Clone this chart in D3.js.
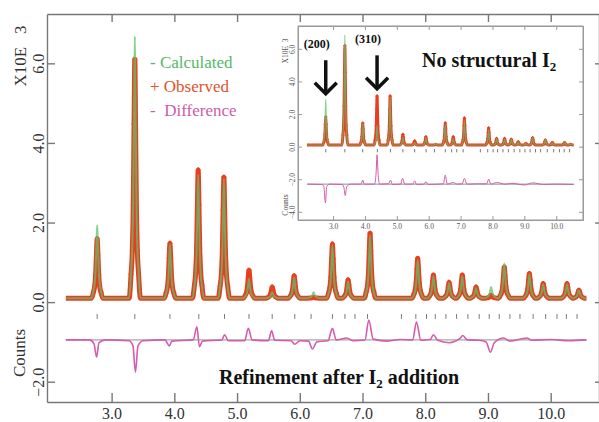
<!DOCTYPE html>
<html>
<head>
<meta charset="utf-8">
<script src="https://cdn.jsdelivr.net/npm/d3@7"></script>
<style>
  html, body { margin: 0; padding: 0; background: #fff; }
  svg { display: block; }
</style>
</head>
<body>
<svg id="chart"></svg>
<script>
// Peak positions, shared by the main refinement and the inset
const peakPos = [2.77, 3.37, 3.93, 4.38, 4.79, 5.19, 5.56, 5.91, 6.22, 6.52, 6.77, 7.12, 7.88, 8.13, 8.38, 8.59, 8.81, 9.05, 9.26, 9.66, 9.88, 10.26, 10.45];

// Main plot: refinement after I2 addition (counts x 10^3)
const calcMain = [1.93, 6.68, 1.45, 3.2, 3.1, 0.58, 0.25, 0.62, 0.25, 1.42, 0.52, 1.68, 1.05, 0.65, 0.48, 0.65, 0.35, 0.38, 0.97, 0.7, 0.45, 0.45, 0.3];
const obsMain  = [1.6, 6.1, 1.48, 3.32, 3.14, 0.8, 0.38, 0.66, 0.12, 1.46, 0.56, 1.73, 1.1, 0.68, 0.5, 0.68, 0.38, 0.18, 0.88, 0.72, 0.47, 0.47, 0.3];
const baseMain = 0.1;
const spanMain = [2.27, 10.57];
const diffMain = [
  [2.27, -0.95], [2.65, -0.95], [2.72, -1.05], [2.76, -1.38], [2.8, -1.02], [2.9, -0.95],
  [3.28, -0.97], [3.34, -1.1], [3.38, -1.76], [3.42, -1.1], [3.5, -0.97],
  [3.85, -0.95], [3.92, -1.1], [3.96, -0.98],
  [4.3, -0.95], [4.36, -0.62], [4.4, -1.12], [4.45, -0.98],
  [4.76, -0.95], [4.8, -0.82], [4.86, -0.97],
  [5.12, -0.97], [5.18, -0.66], [5.24, -0.95],
  [5.5, -0.97], [5.55, -0.72], [5.6, -0.96],
  [5.86, -0.97], [5.92, -1.06], [6.0, -0.97],
  [6.14, -0.98], [6.2, -1.18], [6.27, -1.0],
  [6.45, -0.97], [6.52, -0.66], [6.58, -0.95],
  [6.75, -0.9], [6.85, -0.97],
  [7.04, -0.95], [7.1, -0.45], [7.17, -0.93],
  [7.4, -0.98], [7.6, -0.94],
  [7.8, -0.95], [7.86, -0.5], [7.93, -0.96],
  [8.08, -0.94], [8.13, -0.82], [8.2, -0.96], [8.38, -1.02], [8.55, -0.92], [8.6, -0.84], [8.67, -0.95],
  [8.85, -0.96], [8.97, -1.0], [9.04, -1.26], [9.1, -1.02],
  [9.25, -0.9], [9.35, -0.98], [9.62, -0.9], [9.7, -0.96], [10.0, -0.94], [10.3, -0.97], [10.57, -0.95]
];
const diffZeroMain = -0.95;

// Inset: no structural I2
const calcInset = [2.9, 6.84, 1.4, 1.3, 3.05, 0.55, 0.25, 0.55, 0.2, 1.35, 0.5, 1.6, 1.05, 0.5, 0.45, 0.45, 0.3, 0.2, 0.55, 0.45, 0.25, 0.3, 0.15];
const obsInset  = [1.83, 6.2, 1.44, 3.1, 3.1, 0.75, 0.35, 0.6, 0.15, 1.45, 0.6, 1.75, 1.15, 0.5, 0.5, 0.45, 0.3, 0.2, 0.55, 0.4, 0.25, 0.25, 0.15];
const baseInset = 0.1;
const spanInset = [2.18, 10.55];
const diffInset = [
  [2.2, -2.3], [2.65, -2.32], [2.71, -2.45], [2.76, -3.45], [2.8, -2.45], [2.9, -2.3],
  [3.28, -2.32], [3.34, -2.5], [3.38, -3.0], [3.43, -2.45], [3.55, -2.3],
  [3.88, -2.3], [3.93, -2.05], [3.98, -2.3],
  [4.3, -2.3], [4.35, -1.6], [4.38, -0.5], [4.41, -1.6], [4.46, -2.3],
  [4.74, -2.28], [4.8, -2.05], [4.86, -2.32],
  [5.12, -2.3], [5.18, -1.95], [5.25, -2.3],
  [5.5, -2.3], [5.56, -2.1], [5.62, -2.32],
  [5.85, -2.3], [5.91, -2.15], [5.98, -2.32],
  [6.3, -2.3], [6.46, -2.28], [6.52, -1.75], [6.58, -2.3],
  [6.77, -2.2], [6.9, -2.3], [7.05, -2.28], [7.12, -1.95], [7.2, -2.3],
  [7.5, -2.28], [7.82, -2.28], [7.88, -2.0], [7.95, -2.3],
  [8.13, -2.2], [8.4, -2.3], [8.6, -2.25], [9.0, -2.35], [9.26, -2.22], [9.6, -2.32], [10.0, -2.3], [10.55, -2.32]
];

// Reflection markers
const reflections = [2.77, 3.37, 3.93, 4.39, 4.8, 5.19, 5.56, 5.92, 6.18, 6.52, 6.72, 6.88, 7.08, 7.62, 7.85, 8.02, 8.16, 8.33, 8.5, 8.68, 8.86, 9.02, 9.18, 9.35, 9.51, 9.72, 9.92, 10.1, 10.25, 10.42];

// Axes
const xTicks = [3, 4, 5, 6, 7, 8, 9, 10];
const yTicks = [-2, 0, 2, 4, 6];
const yTicksInset = [-4, -2, 0, 2, 4, 6];

// Legend and annotations
const legendItems = [
  {label: '- Calculated', color: '#55b86a'},
  {label: '+ Observed', color: '#e2522c'},
  {label: '-  Difference', color: '#cf5ca8'}
];
const arrows = [
  {label: '(200)', pos: 2.77, from: 5.3, to: 3.25},
  {label: '(310)', pos: 4.38, from: 5.6, to: 3.55}
];

const serif = '"Liberation Serif", "Times New Roman", serif';

// a peak drawn as a spike glyph (narrow top, wide foot) on a flat background
const glyphDx = [-0.09, -0.06, -0.04, -0.025, -0.012, 0, 0.012, 0.025, 0.04, 0.06, 0.09];
const glyphF  = [0, 0.1, 0.2, 0.39, 0.73, 1, 0.73, 0.39, 0.2, 0.1, 0];
function profile(heights, base, span) {
    const pts = [[span[0], base]];
    peakPos.forEach((p, i) => {
        glyphDx.forEach((dx, k) => pts.push([p + dx, base + glyphF[k] * (heights[i] - base)]));
    });
    pts.push([span[1], base]);
    return pts;
}

function lineOf(sx, sy) {
    return d3.line().x(d => sx(d[0])).y(d => sy(d[1])).curve(d3.curveMonotoneX);
}

function drawCurves(g, sx, sy, o) {
    const obs = profile(o.obs, o.base, o.span);
    const calc = profile(o.calc, o.base, o.span);
    // observed: red band with "+" marks
    g.append('path').datum(obs)
        .attr('d', lineOf(sx, sy))
        .attr('fill', 'none')
        .attr('stroke', '#ec3b1f')
        .attr('stroke-width', o.band)
        .attr('stroke-linejoin', 'round');
    g.selectAll('path.obs-mark')
        .data(obs.filter(d => d[1] > o.base + 0.08))
        .join('path')
        .attr('class', 'obs-mark')
        .attr('transform', d => `translate(${sx(d[0])},${sy(d[1])})`)
        .attr('d', d3.symbol(d3.symbolCross, o.mark))
        .attr('fill', '#e8401f');
    // calculated
    g.append('path').datum(calc)
        .attr('d', lineOf(sx, sy))
        .attr('fill', 'none')
        .attr('stroke', '#5cc46a')
        .attr('stroke-opacity', 0.75)
        .attr('stroke-width', o.lw);
    // reflection markers
    g.selectAll('line.refl')
        .data(reflections)
        .join('line')
        .attr('class', 'refl')
        .attr('x1', d => sx(d)).attr('x2', d => sx(d))
        .attr('y1', sy(o.refl[0])).attr('y2', sy(o.refl[1]))
        .attr('stroke', '#777')
        .attr('stroke-width', 1);
    // difference
    g.append('path').datum(o.span.map(v => [v, o.diffZero]))
        .attr('d', lineOf(sx, sy))
        .attr('stroke', '#444')
        .attr('stroke-opacity', 0.6)
        .attr('stroke-width', 1);
    g.append('path').datum(o.diff)
        .attr('d', lineOf(sx, sy))
        .attr('fill', 'none')
        .attr('stroke', '#d45cae')
        .attr('stroke-width', o.diffW);
}

function styleAxis(g, color, w) {
    g.select('.domain').attr('stroke', color).attr('stroke-width', w);
    g.selectAll('.tick line').attr('stroke', color).attr('stroke-width', w);
    g.attr('font-family', serif);
}

const svg = d3.select('#chart').attr('width', 599).attr('height', 422);

// ---------- main plot ----------
const x = d3.scaleLinear().domain([1.97, 10.77]).range([47, 599]);
const y = d3.scaleLinear().domain([-2.51, 7.24]).range([402, 14]);
const fmt = d3.format('.1f');

const gMain = svg.append('g').attr('class', 'main');

gMain.append('g').attr('transform', 'translate(0,402)')
    .call(d3.axisBottom(x).tickValues(xTicks).tickSize(-9).tickSizeOuter(0).tickPadding(6).tickFormat(fmt))
    .call(g => styleAxis(g, '#777', 1.4))
    .call(g => g.selectAll('text').attr('font-size', 16).attr('fill', '#333'));
gMain.append('g').attr('transform', 'translate(0,14)')
    .call(d3.axisTop(x).tickValues(xTicks).tickSize(-8).tickSizeOuter(0).tickFormat(''))
    .call(g => styleAxis(g, '#777', 1.4));
gMain.append('g').attr('transform', 'translate(47,0)')
    .call(d3.axisLeft(y).tickValues(yTicks).tickSize(-8).tickSizeOuter(0).tickFormat(fmt))
    .call(g => styleAxis(g, '#777', 1.4))
    .call(g => g.selectAll('text')
        .attr('font-size', 16).attr('fill', '#333')
        .attr('transform', 'rotate(-90)')
        .attr('x', 0).attr('y', -3).attr('dy', 0)
        .attr('text-anchor', 'middle'));
gMain.append('g').attr('transform', 'translate(599,0)')
    .call(d3.axisRight(y).tickValues(yTicks).tickSize(-4).tickSizeOuter(0).tickFormat(''))
    .call(g => styleAxis(g, '#777', 1.4));

gMain.append('text')
    .attr('transform', 'translate(26,56) rotate(-90)')
    .attr('text-anchor', 'middle')
    .attr('font-family', serif).attr('font-size', 17).attr('fill', '#333')
    .attr('xml:space', 'preserve')
    .text('X10E   3');
gMain.append('text')
    .attr('transform', 'translate(25,353) rotate(-90)')
    .attr('text-anchor', 'middle')
    .attr('font-family', serif).attr('font-size', 17).attr('fill', '#333')
    .text('Counts');

drawCurves(gMain, x, y, {
    obs: obsMain, calc: calcMain, base: baseMain, span: spanMain,
    diff: diffMain, diffZero: diffZeroMain,
    refl: [-0.3, -0.42], band: 5, lw: 2, mark: 13, diffW: 1.6
});

// legend
svg.append('g').selectAll('text')
    .data(legendItems)
    .join('text')
    .attr('x', 150)
    .attr('y', (d, i) => 68 + i * 24)
    .attr('font-family', serif).attr('font-size', 17)
    .attr('xml:space', 'preserve')
    .attr('fill', d => d.color)
    .text(d => d.label);

// caption under the difference curve
const cap = svg.append('text')
    .attr('x', 219).attr('y', 384)
    .attr('font-family', serif).attr('font-size', 20).attr('font-weight', 'bold')
    .attr('fill', '#111');
cap.append('tspan').text('Refinement after I');
cap.append('tspan').attr('font-size', 13).attr('dy', 4).text('2');
cap.append('tspan').attr('dy', -4).text(' addition');

// ---------- inset ----------
const xi = d3.scaleLinear().domain([1.9, 10.84]).range([298, 583]);
const yi = d3.scaleLinear().domain([-4.5, 7.4]).range([220, 26]);
const gIn = svg.append('g').attr('class', 'inset');

gIn.append('rect')
    .attr('x', 298).attr('y', 26).attr('width', 285).attr('height', 194)
    .attr('fill', '#fff').attr('stroke', '#999').attr('stroke-width', 1);

gIn.append('g').attr('transform', 'translate(0,220)')
    .call(d3.axisBottom(xi).tickValues(xTicks).tickSize(-4).tickSizeOuter(0).tickPadding(4).tickFormat(fmt))
    .call(g => styleAxis(g, '#999', 1))
    .call(g => g.selectAll('text').attr('font-size', 7.5).attr('fill', '#555'));
gIn.append('g').attr('transform', 'translate(0,26)')
    .call(d3.axisTop(xi).tickValues(xTicks).tickSize(-4).tickSizeOuter(0).tickFormat(''))
    .call(g => styleAxis(g, '#999', 1));
gIn.append('g').attr('transform', 'translate(298,0)')
    .call(d3.axisLeft(yi).tickValues(yTicksInset).tickSize(-4).tickSizeOuter(0).tickFormat(fmt))
    .call(g => styleAxis(g, '#999', 1))
    .call(g => g.selectAll('text')
        .attr('font-size', 7.5).attr('fill', '#555')
        .attr('transform', 'rotate(-90)')
        .attr('x', 0).attr('y', -3).attr('dy', 0)
        .attr('text-anchor', 'middle'));
gIn.append('g').attr('transform', 'translate(583,0)')
    .call(d3.axisRight(yi).tickValues(yTicksInset).tickSize(-4).tickSizeOuter(0).tickFormat(''))
    .call(g => styleAxis(g, '#999', 1));

gIn.append('text')
    .attr('transform', 'translate(288,51) rotate(-90)')
    .attr('text-anchor', 'middle')
    .attr('font-family', serif).attr('font-size', 7.5).attr('fill', '#555')
    .attr('xml:space', 'preserve')
    .text('X10E  3');
gIn.append('text')
    .attr('transform', 'translate(288,205) rotate(-90)')
    .attr('text-anchor', 'middle')
    .attr('font-family', serif).attr('font-size', 7.5).attr('fill', '#555')
    .text('Counts');

drawCurves(gIn, xi, yi, {
    obs: obsInset, calc: calcInset, base: baseInset, span: spanInset,
    diff: diffInset, diffZero: -2.3,
    refl: [-0.15, -0.35], band: 3, lw: 1.2, mark: 6, diffW: 1
});

// arrows pointing at the (200) and (310) reflections
const ga = gIn.append('g').selectAll('g').data(arrows).join('g');
ga.append('line')
    .attr('x1', d => xi(d.pos)).attr('x2', d => xi(d.pos))
    .attr('y1', d => yi(d.from)).attr('y2', d => yi(d.to))
    .attr('stroke', '#111').attr('stroke-width', 3.5);
ga.append('path')
    .attr('d', d => `M${xi(d.pos) - 11},${yi(d.to) - 11} L${xi(d.pos)},${yi(d.to)} L${xi(d.pos) + 11},${yi(d.to) - 11}`)
    .attr('fill', 'none').attr('stroke', '#111').attr('stroke-width', 3.5)
    .attr('stroke-linejoin', 'miter');
ga.append('text')
    .attr('x', d => xi(d.pos) - 9)
    .attr('y', d => yi(d.from) - 12)
    .attr('text-anchor', 'middle')
    .attr('font-family', serif).attr('font-size', 12).attr('font-weight', 'bold')
    .attr('fill', '#111')
    .text(d => d.label);

const title = gIn.append('text')
    .attr('x', 422).attr('y', 67)
    .attr('font-family', serif).attr('font-size', 20).attr('font-weight', 'bold')
    .attr('fill', '#111');
title.append('tspan').text('No structural I');
title.append('tspan').attr('font-size', 13).attr('dy', 4).text('2');
</script>
</body>
</html>
